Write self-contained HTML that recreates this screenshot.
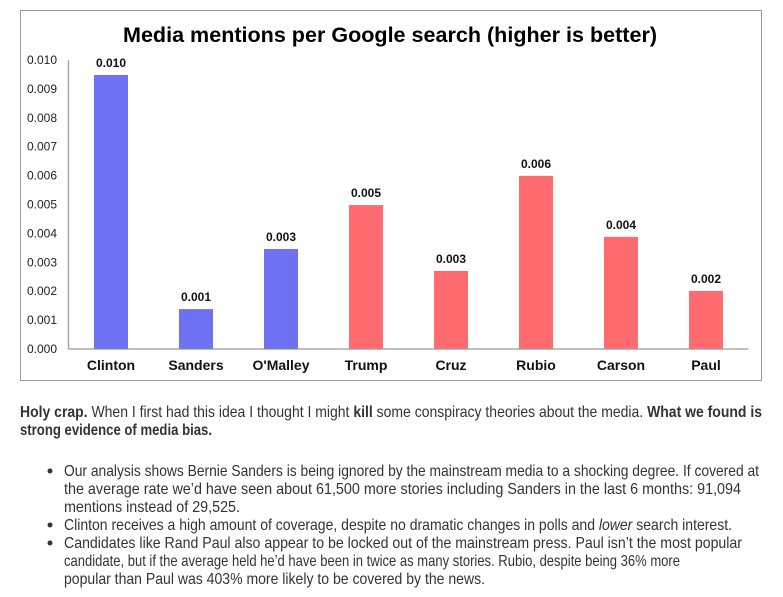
<!DOCTYPE html>
<html><head><meta charset="utf-8"><style>
html,body{margin:0;padding:0;background:#fff;}
svg{display:block;font-family:"Liberation Sans",Arial,sans-serif;}
</style></head><body>
<svg id="c" width="783" height="597" viewBox="0 0 783 597">
<rect x="20.5" y="10.5" width="741" height="370" fill="#fff" stroke="#999"/>
<text x="390" y="42" text-anchor="middle" font-size="21" font-weight="bold" fill="#000" textLength="534" lengthAdjust="spacingAndGlyphs">Media mentions per Google search (higher is better)</text>
<g id="axes"></g>
<g id="bars"></g>
<g font-family="Liberation Sans, Arial, sans-serif" font-size="16" fill="#333">
<text x="20" y="417" textLength="742" lengthAdjust="spacingAndGlyphs"><tspan font-weight="bold">Holy crap.</tspan> When I first had this idea I thought I might <tspan font-weight="bold">kill</tspan> some conspiracy theories about the media. <tspan font-weight="bold">What we found is</tspan></text>
<text x="20" y="435" font-weight="bold" textLength="192" lengthAdjust="spacingAndGlyphs">strong evidence of media bias.</text>
<circle cx="50" cy="471" r="2.5" fill="#333"/>
<text x="64" y="476" textLength="695" lengthAdjust="spacingAndGlyphs">Our analysis shows Bernie Sanders is being ignored by the mainstream media to a shocking degree. If covered at</text>
<text x="64" y="494" textLength="677" lengthAdjust="spacingAndGlyphs">the average rate we’d have seen about 61,500 more stories including Sanders in the last 6 months: 91,094</text>
<text x="64" y="512" textLength="176" lengthAdjust="spacingAndGlyphs">mentions instead of 29,525.</text>
<circle cx="50" cy="525" r="2.5" fill="#333"/>
<text x="64" y="530" textLength="668" lengthAdjust="spacingAndGlyphs">Clinton receives a high amount of coverage, despite no dramatic changes in polls and <tspan font-style="italic">lower</tspan> search interest.</text>
<circle cx="50" cy="543" r="2.5" fill="#333"/>
<text x="64" y="548" textLength="678" lengthAdjust="spacingAndGlyphs">Candidates like Rand Paul also appear to be locked out of the mainstream press. Paul isn’t the most popular</text>
<text x="64" y="566" textLength="616" lengthAdjust="spacingAndGlyphs">candidate, but if the average held he’d have been in twice as many stories. Rubio, despite being 36% more</text>
<text x="64" y="584" textLength="421" lengthAdjust="spacingAndGlyphs">popular than Paul was 403% more likely to be covered by the news.</text>
</g>
</svg>
<script>
const categories = ["Clinton","Sanders","O'Malley","Trump","Cruz","Rubio","Carson","Paul"];
const values = [0.00948,0.00138,0.00346,0.00498,0.0027,0.00599,0.00388,0.00201];
const parties = ["D","D","D","R","R","R","R","R"];
const valueLabels = ["0.010","0.001","0.003","0.005","0.003","0.006","0.004","0.002"];
const yTicks = [0,0.001,0.002,0.003,0.004,0.005,0.006,0.007,0.008,0.009,0.010];
const yTickLabels = ["0.000","0.001","0.002","0.003","0.004","0.005","0.006","0.007","0.008","0.009","0.010"];

const NS="http://www.w3.org/2000/svg";
const X0=68.5, X1=748.5, Y0=349, Y1=60, YMAX=0.010;
const band=(X1-X0)/categories.length;
function y(v){return Y0-(v/YMAX)*(Y0-Y1);}
function xc(i){return X0+band*(i+0.5);}
function mk(tag,attrs,parent){const e=document.createElementNS(NS,tag);for(const k in attrs)e.setAttribute(k,attrs[k]);parent.appendChild(e);return e;}
const axes=document.getElementById('axes'), bars=document.getElementById('bars');
let a=mk('line',{x1:X0,y1:Y1,x2:X0,y2:Y0,stroke:'#aaa','stroke-width':1.5},axes);


a=mk('line',{x1:X0,y1:Y0,x2:X1,y2:Y0,stroke:'#aaa','stroke-width':1.5},axes);


yTicks.forEach((t,i)=>{
  const e=mk('text',{x:57,y:y(t)+4,'text-anchor':'end','font-size':12,fill:'#222'},axes);
  e.textContent=yTickLabels[i];
  
  
});
categories.forEach((c,i)=>{
  const w=34, top=y(values[i]);
  const r=mk('rect',{x:xc(i)-w/2,y:top,width:w,height:Y0-top,fill:parties[i]==='D'?'#6e72f2':'#ff6b6e'},bars);
  
  
  const v=mk('text',{x:xc(i),y:top-8,'text-anchor':'middle','font-size':12,'font-weight':'bold',fill:'#111'},bars);
  v.textContent=valueLabels[i];
  
  
  const l=mk('text',{x:xc(i),y:370,'text-anchor':'middle','font-size':14,'font-weight':'bold',fill:'#111'},bars);
  l.textContent=c;
  
  
});
</script>
</body></html>
